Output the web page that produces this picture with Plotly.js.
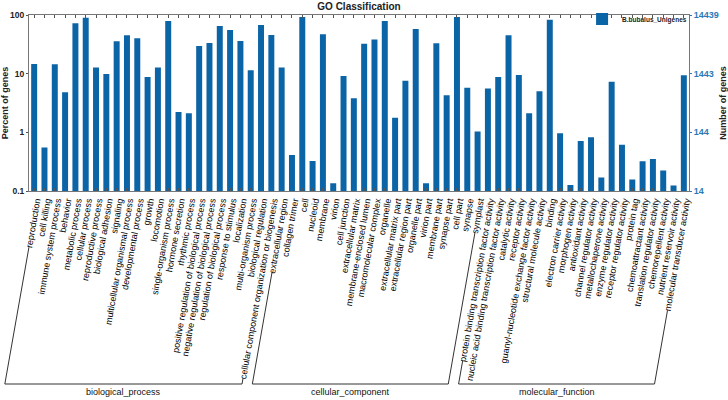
<!DOCTYPE html>
<html>
<head>
<meta charset="utf-8">
<script src="https://cdn.plot.ly/plotly-3.0.1.min.js"></script>
<style>html,body{margin:0;padding:0;background:#fff;}#chart{width:728px;height:400px;}</style>
</head>
<body>
<div id="chart"></div>
<script>
// ---- data ----
const bioTerms = ["reproduction","cell killing","immune system process","behavior","metabolic process","cellular process","reproductive process","biological adhesion","signaling","multicellular organismal process","developmental process","growth","locomotion","single-organism process","hormone secretion","rhythmic process","positive regulation of biological process","negative regulation of biological process","regulation of biological process","response to stimulus","localization","multi-organism process","biological regulation","cellular component organization or biogenesis"];
const bioValues = [14.6,0.55,14.5,4.8,72,90,12.7,9.9,35.6,45,40,8.8,12.8,79,2.23,2.11,29.6,33.3,65,55.5,36,11.4,67.6,45.6];
const ccTerms = ["extracellular region","collagen trimer","cell","nucleoid","membrane","virion","cell junction","extracellular matrix","membrane-enclosed lumen","macromolecular complex","organelle","extracellular matrix part","extracellular region part","organelle part","virion part","membrane part","synapse part","cell part","synapse","symplast"];
const ccValues = [12.7,0.41,92.4,0.326,46.9,0.136,9.1,3.8,32.4,38.2,79,1.78,7.6,57.7,0.136,32.9,4.28,92.4,5.78,1.03];
const mfTerms = ["protein binding transcription factor activity","nucleic acid binding transcription factor activity","catalytic activity","receptor activity","guanyl-nucleotide exchange factor activity","structural molecule activity","binding","electron carrier activity","morphogen activity","antioxidant activity","channel regulator activity","metallochaperone activity","enzyme regulator activity","receptor regulator activity","protein tag","chemoattractant activity","translation regulator activity","chemorepellent activity","nutrient reservoir activity","molecular transducer activity"];
const mfValues = [5.6,8.8,45,9.5,2.11,5.0,83,0.966,0.127,0.713,0.824,0.17,7.3,0.617,0.157,0.32,0.352,0.223,0.124,9.4];
const groupNames = ["biological_process","cellular_component","molecular_function"];
const leftTickVals = [0.1,1,10,100];
const leftTickText = ["0.1","1","10","100"];
const rightTickVals = [14.439,144.39,1443.9,14439];
const rightTickText = ["14","144","1443","14439"];
const seriesName = "B.bubalus_Unigenes";

// ---- build ----
const terms = bioTerms.concat(ccTerms, mfTerms);
const values = bioValues.concat(ccValues, mfValues);
const groups = [
  {name: groupNames[0], first: 0, last: bioTerms.length - 1},
  {name: groupNames[1], first: bioTerms.length, last: bioTerms.length + ccTerms.length - 1},
  {name: groupNames[2], first: bioTerms.length + ccTerms.length, last: terms.length - 1}
];

const W = 728, H = 400;
const M = {l: 29, r: 39, t: 15, b: 209, autoexpand: false};
const PW = W - M.l - M.r, PH = H - M.t - M.b;
const labelFontSize = 9.0;
const labelShift = 2;
const FONT = "Arial, 'Liberation Sans', sans-serif";
const ang = 80 * Math.PI / 180;
const dirX = -Math.cos(ang), dirY = Math.sin(ang);
const labelTop = M.t + PH + 4;
const baseY = 384;

const cv = document.createElement('canvas').getContext('2d');
cv.font = labelFontSize + "px " + FONT;

function px2paperX(px) { return (px - M.l) / PW; }
function px2paperY(py) { return (M.t + PH - py) / PH; }
function barPx(i) { return M.l + (i + 0.5) * PW / terms.length; }

const shapes = [];
const annotations = [];
const lineStyle = {color: '#333', width: 1};
groups.forEach(g => {
  const ends = [g.first, g.last].map(i => {
    const w = cv.measureText(terms[i]).width + 3;
    const ax = barPx(i) + 2 + labelShift, ay = labelTop;
    const sx = ax + dirX * w, sy = ay + dirY * w;
    const t = (baseY - ay) / dirY;
    const bx = ax + dirX * t;
    return {sx, sy: Math.min(sy, baseY - 2), bx};
  });
  ends.forEach(e => {
    shapes.push({type: 'line', xref: 'paper', yref: 'paper',
      x0: px2paperX(e.sx), y0: px2paperY(e.sy), x1: px2paperX(e.bx), y1: px2paperY(baseY), line: lineStyle});
  });
  shapes.push({type: 'line', xref: 'paper', yref: 'paper',
    x0: px2paperX(ends[0].bx), y0: px2paperY(baseY), x1: px2paperX(ends[1].bx), y1: px2paperY(baseY), line: lineStyle});
  annotations.push({xref: 'paper', yref: 'paper', x: px2paperX((ends[0].bx + ends[1].bx) / 2), y: px2paperY(392),
    text: g.name, showarrow: false, xanchor: 'center', yanchor: 'middle',
    font: {family: FONT, size: 9, color: '#111'}});
});

const barTrace = {
  type: 'bar', x: terms, y: values, name: seriesName, showlegend: true,
  marker: {color: '#0b64a6', line: {width: 0}}
};
const rightAxisTrace = {type: 'scatter', x: [], y: [], yaxis: 'y2', showlegend: false, hoverinfo: 'skip'};

const layout = {
  width: W, height: H, margin: M,
  paper_bgcolor: '#fff', plot_bgcolor: '#fff',
  bargap: 0.42,
  font: {family: FONT, color: '#222'},
  title: {text: 'GO Classification', x: 0.5, xref: 'paper', y: 1, yanchor: 'top', pad: {t: 3}, automargin: false,
    font: {family: FONT, size: 10, weight: 'bold', color: '#222'}},
  xaxis: {type: 'category', tickmode: 'linear', tick0: 0, dtick: 1, tickangle: -80, automargin: false,
    ticklabelshift: labelShift,
    tickfont: {family: FONT, size: labelFontSize, color: '#000'},
    showline: true, linecolor: '#777', linewidth: 1, mirror: 'ticks',
    ticks: 'inside', ticklen: 3, tickcolor: '#555', showgrid: false},
  yaxis: {type: 'log', range: [-1, 2], tickvals: leftTickVals, ticktext: leftTickText,
    automargin: false, showgrid: false, zeroline: false,
    showline: true, linecolor: '#777', ticks: 'outside', ticklen: 2, tickcolor: '#555',
    tickfont: {family: FONT, size: 8.5, weight: 'bold', color: '#222'},
    title: {text: 'Percent of genes', standoff: 4, font: {family: FONT, size: 9, weight: 'bold', color: '#222'}}},
  yaxis2: {type: 'log', overlaying: 'y', side: 'right',
    range: [Math.log10(rightTickVals[0]), Math.log10(rightTickVals[3])],
    tickvals: rightTickVals, ticktext: rightTickText,
    automargin: false, showgrid: false, zeroline: false,
    showline: true, linecolor: '#777', ticks: 'outside', ticklen: 2, tickcolor: '#2a7ab8',
    tickfont: {family: FONT, size: 9, weight: 'bold', color: '#2a7ab8'},
    title: {text: 'Number of genes', standoff: 4, font: {family: FONT, size: 9, weight: 'bold', color: '#222'}}},
  legend: {x: 0.838, xanchor: 'left', y: 1.059, yanchor: 'top', bgcolor: 'rgba(255,255,255,0)',
    font: {family: FONT, size: 6.5, weight: 'bold', color: '#222'}, itemwidth: 30, tracegroupgap: 0},
  shapes: shapes,
  annotations: annotations
};

Plotly.newPlot('chart', [barTrace, rightAxisTrace], layout, {displayModeBar: false, staticPlot: true});
</script>
</body>
</html>
